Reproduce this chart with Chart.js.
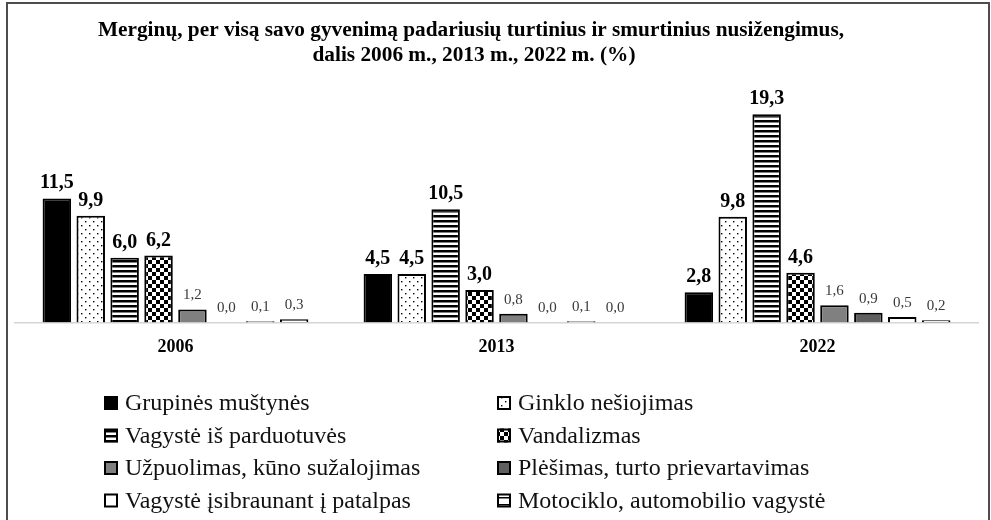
<!DOCTYPE html>
<html lang="lt">
  <head>
    <meta charset="UTF-8" />
    <title>Merginų nusižengimai</title>
    <script src="https://cdn.jsdelivr.net/npm/chart.js"></script>
    <style>
      body { margin: 0; background: #fff; }
      #wrap { position: relative; width: 991px; height: 520px; overflow: hidden; }
      #frame {
        position: absolute; left: 6px; top: 2px; width: 980px; height: 540px;
        border: 2px solid #4d4d4d; pointer-events: none;
      }
    </style>
  </head>
  <body>
    <div id="wrap">
      <canvas id="chart" width="991" height="520"></canvas>
      <div id="frame"></div>
    </div>

    <script>
      const titleLines = [
        "Merginų, per visą savo gyvenimą padariusių turtinius ir smurtinius nusižengimus,",
        "dalis 2006 m., 2013 m., 2022 m. (%)",
      ];
      const categories = ["2006", "2013", "2022"];
      const seriesNames = [
        "Grupinės muštynės",
        "Ginklo nešiojimas",
        "Vagystė iš parduotuvės",
        "Vandalizmas",
        "Užpuolimas, kūno sužalojimas",
        "Plėšimas, turto prievartavimas",
        "Vagystė įsibraunant į patalpas",
        "Motociklo, automobilio vagystė",
      ];
      const grupines = [11.5, 4.5, 2.8];
      const ginklo = [9.9, 4.5, 9.8];
      const parduotuves = [6.0, 10.5, 19.3];
      const vandalizmas = [6.2, 3.0, 4.6];
      const uzpuolimas = [1.2, 0.8, 1.6];
      const plesimas = [0.0, 0.0, 0.9];
      const isibraunant = [0.1, 0.1, 0.5];
      const motociklo = [0.3, 0.0, 0.2];

      const serif = '"Liberation Serif", "DejaVu Serif", serif';

      function makePattern(w, h, paint) {
        const c = document.createElement("canvas");
        c.width = w;
        c.height = h;
        const g = c.getContext("2d");
        g.fillStyle = "#fff";
        g.fillRect(0, 0, w, h);
        g.fillStyle = "#000";
        paint(g);
        return document.createElement("canvas").getContext("2d").createPattern(c, "repeat");
      }

      const dots = makePattern(8, 8, (g) => {
        g.fillRect(1, 1, 1.4, 1.4);
        g.fillRect(5, 5, 1.4, 1.4);
      });
      const stripes = makePattern(4, 5, (g) => g.fillRect(0, 0, 4, 2.5));
      const checker = makePattern(8, 8, (g) => {
        g.fillRect(0, 0, 4, 4);
        g.fillRect(4, 4, 4, 4);
      });
      const wideStripes = makePattern(4, 7, (g) => g.fillRect(0, 0, 4, 1.5));

      const fills = ["#000", dots, stripes, checker, "#808080", "#5f5f5f", "#fff", wideStripes];
      const values = [grupines, ginklo, parduotuves, vandalizmas, uzpuolimas, plesimas, isibraunant, motociklo];

      const datasets = values.map((v, i) => ({
        label: seriesNames[i],
        data: v,
        backgroundColor: fills[i],
        borderColor: "#000",
        borderWidth: 2,
        barPercentage: 0.84,
        categoryPercentage: 0.845,
      }));

      // title sits a bit left of the plot centre, so it is drawn by hand
      const leftTitle = {
        id: "leftTitle",
        afterDraw(chart) {
          const ctx = chart.ctx;
          ctx.save();
          ctx.font = "bold 21.3px " + serif;
          ctx.fillStyle = "#000";
          ctx.textAlign = "center";
          ctx.textBaseline = "middle";
          ctx.fillText(titleLines[0], 471, 30);
          ctx.fillText(titleLines[1], 474, 55);
          ctx.restore();
        },
      };

      // value labels over the bars
      const valueLabels = {
        id: "valueLabels",
        afterDatasetsDraw(chart) {
          const ctx = chart.ctx;
          ctx.save();
          ctx.textAlign = "center";
          ctx.textBaseline = "alphabetic";
          chart.data.datasets.forEach((ds, i) => {
            chart.getDatasetMeta(i).data.forEach((bar, j) => {
              const v = ds.data[j];
              const big = v >= 2.5;
              ctx.font = big ? "bold 20px " + serif : "15px " + serif;
              ctx.fillStyle = big ? "#000" : "#3a3a3a";
              ctx.fillText(v.toFixed(1).replace(".", ","), bar.x, bar.y - 10);
            });
          });
          ctx.restore();
        },
      };

      // two-column legend under the plot
      const columnLegend = {
        id: "columnLegend",
        afterDraw(chart) {
          const ctx = chart.ctx;
          ctx.save();
          ctx.font = "24px " + serif;
          ctx.textBaseline = "middle";
          chart.data.datasets.forEach((ds, i) => {
            const x = i % 2 === 0 ? 104 : 497;
            const y = 403 + Math.floor(i / 2) * 32.5;
            ctx.fillStyle = ds.backgroundColor;
            ctx.fillRect(x, y - 7, 14, 14);
            ctx.lineWidth = 2;
            ctx.strokeStyle = "#000";
            ctx.strokeRect(x + 1, y - 6, 12, 12);
            ctx.fillStyle = "#111";
            ctx.fillText(ds.label, x + 21, y + 1);
          });
          ctx.restore();
        },
      };

      new Chart(document.getElementById("chart"), {
        type: "bar",
        data: { labels: categories, datasets: datasets },
        options: {
          responsive: false,
          animation: false,
          layout: { padding: { left: 15, right: 13, top: 82, bottom: 148 } },
          plugins: {
            legend: { display: false },
            tooltip: { enabled: false },
            title: { display: false },
          },
          scales: {
            x: {
              grid: { display: false, drawTicks: false },
              border: { display: true, color: "#d4d4d4", width: 1.5 },
              ticks: { color: "#000", padding: 14, font: { family: serif, size: 18, weight: "bold" } },
            },
            y: { display: false, min: 0, max: 22.3 },
          },
        },
        plugins: [leftTitle, valueLabels, columnLegend],
      });
    </script>
  </body>
</html>
